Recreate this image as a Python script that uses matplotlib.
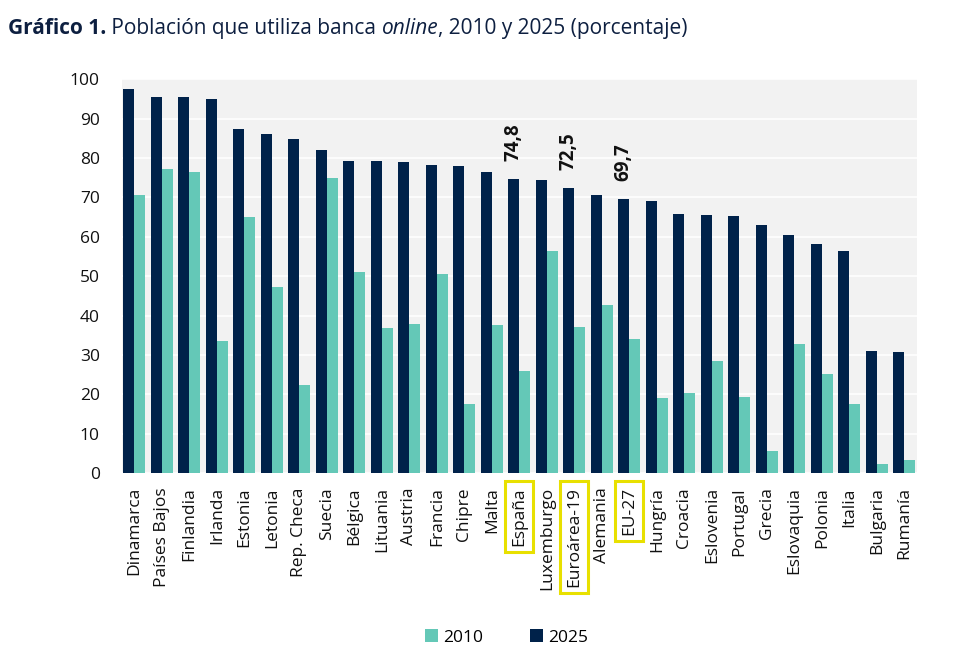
import matplotlib.pyplot as plt
import numpy as np

plt.rcParams['font.family'] = ['Open Sans', 'DejaVu Sans']

paises = ["Dinamarca", "Países Bajos", "Finlandia", "Irlanda", "Estonia", "Letonia",
          "Rep. Checa", "Suecia", "Bélgica", "Lituania", "Austria", "Francia", "Chipre",
          "Malta", "España", "Luxemburgo", "Euroárea-19", "Alemania", "EU-27", "Hungría",
          "Croacia", "Eslovenia", "Portugal", "Grecia", "Eslovaquia", "Polonia", "Italia",
          "Bulgaria", "Rumanía"]
v2010 = [70.6, 77.2, 76.4, 33.5, 65.0, 47.4, 22.4, 74.9, 51.0, 36.8, 37.9, 50.5, 17.5,
         37.6, 26.0, 56.3, 37.1, 42.6, 34.1, 19.0, 20.3, 28.5, 19.4, 5.7, 32.8, 25.3, 17.6,
         2.4, 3.3]
v2025 = [97.6, 95.6, 95.4, 95.1, 87.3, 86.0, 84.8, 82.0, 79.3, 79.3, 78.9, 78.2, 78.1,
         76.4, 74.8, 74.4, 72.5, 70.7, 69.7, 69.2, 65.7, 65.6, 65.2, 63.0, 60.5, 58.1, 56.3,
         31.0, 30.9]
destacados = ["España", "Euroárea-19", "EU-27"]

azul = '#00224a'
verde = '#64c8b7'

fig = plt.figure(figsize=(9.73, 6.58), dpi=100)
ax = fig.add_axes([0.1254, 0.2807, 0.8167, 0.5988])
ax.set_facecolor('#f2f2f2')

x = np.arange(len(paises))
w = 0.4
ax.bar(x - w / 2, v2025, w, color=azul, label='2025', zorder=3)
ax.bar(x + w / 2, v2010, w, color=verde, label='2010', zorder=3)

ax.set_ylim(0, 100)
ax.set_xlim(-0.45, len(paises) - 0.55)
ax.set_yticks(range(0, 101, 10))
ax.grid(axis='y', color='white', linewidth=1.2, zorder=0)
for s in ax.spines.values():
    s.set_visible(False)
ax.tick_params(axis='both', length=0, labelsize=12.5, colors='#111111')
ax.tick_params(axis='y', pad=16)
ax.tick_params(axis='x', pad=10)
ax.set_xticks(x)
ax.set_xticklabels(paises, rotation=90, va='top', ha='center')

for lab in ax.get_xticklabels():
    if lab.get_text() in destacados:
        lab.set_bbox(dict(facecolor='none', edgecolor='#e8e000', linewidth=2.2,
                          boxstyle='square,pad=0.35'))

for i, p in enumerate(paises):
    if p in destacados:
        ax.annotate(f"{v2025[i]:.1f}".replace('.', ','), (x[i] - w / 2, v2025[i]),
                    xytext=(0, 13), textcoords='offset points', rotation=90,
                    ha='center', va='bottom', fontsize=13.5, fontweight='bold',
                    color='#111111')

handles, labels = ax.get_legend_handles_labels()
fig.legend(handles[::-1], labels[::-1], loc='center', bbox_to_anchor=(0.521, 0.031),
           ncol=2, frameon=False, fontsize=12.5, handlelength=0.75, handleheight=0.75,
           handletextpad=0.3, columnspacing=2.7)

# titulo en partes (negrita / normal / cursiva)
r = fig.canvas.get_renderer()
partes = [("Gráfico 1.", 'bold', 'normal'), (" Población que utiliza banca ", 'normal', 'normal'),
          ("online", 'normal', 'italic'), (", 2010 y 2025 (porcentaje)", 'normal', 'normal')]
xpos = 8
for txt, peso, estilo in partes:
    t = fig.text(xpos / 973, 0.956, txt, fontsize=15, fontweight=peso, fontstyle=estilo,
                 color='#0d1f40', va='center', ha='left')
    bb = t.get_window_extent(renderer=r)
    xpos = bb.x1

fig.savefig('out.png', dpi=100)
